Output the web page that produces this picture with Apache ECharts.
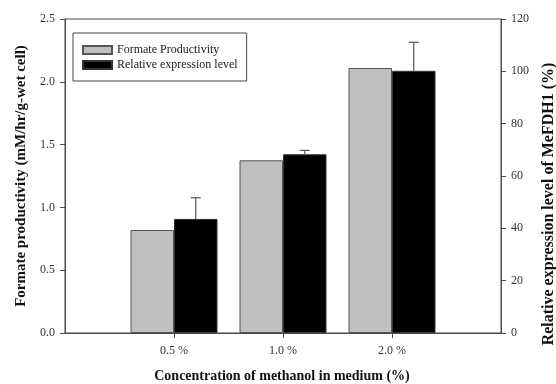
<!DOCTYPE html>
<html>
<head>
<meta charset="utf-8">
<script src="https://cdn.jsdelivr.net/npm/echarts@6/dist/echarts.min.js"></script>
<style>html,body{margin:0;padding:0;background:#fff}#c{width:556px;height:384px}</style>
</head>
<body>
<div id="c"></div>
<script>
var categories = ['', '0.5 %', '1.0 %', '2.0 %', ''];
var productivity = ['-', 0.82, 1.375, 2.11, '-'];
var expression = ['-', 43.6, 68.3, 100.2, '-'];
var expressionErr = [0, 8.1, 1.5, 10.9, 0];
var leftTicks = [0, 2.5, 0.5];
var rightTicks = [0, 120, 20];
var seriesNames = ['Formate Productivity', 'Relative expression level'];
var leftTitle = 'Formate productivity (mM/hr/g-wet cell)';
var rightTitle = 'Relative expression level of MeFDH1 (%)';
var xTitle = 'Concentration of methanol in medium (%)';

var FONT = '"Liberation Serif","Times New Roman",serif';
var axisColor = '#4a4a4a';
var labelColor = '#333';
var BAR_W = 43.5;

var errData = [];
for (var i = 0; i < categories.length; i++) {
  if (expression[i] !== '-') errData.push([i, expression[i], expressionErr[i]]);
}

var chart = echarts.init(document.getElementById('c'), null, {renderer: 'canvas'});
chart.setOption({
  animation: false,
  backgroundColor: '#fff',
  grid: {left: 65, right: 55, top: 19, bottom: 51, show: true, borderColor: axisColor, borderWidth: 1, backgroundColor: 'transparent'},
  legend: {
    orient: 'vertical', left: 73, top: 33,
    padding: [11, 9, 10, 9], itemGap: 3,
    itemWidth: 29, itemHeight: 8,
    borderColor: '#444', borderWidth: 1,
    icon: 'rect',
    data: seriesNames,
    textStyle: {fontFamily: FONT, fontSize: 12, color: '#222'}
  },
  xAxis: {
    type: 'category', data: categories, boundaryGap: false,
    axisLine: {lineStyle: {color: axisColor, width: 1}},
    axisTick: {length: 5, lineStyle: {color: axisColor}, interval: function (idx) { return idx >= 1 && idx <= 3; }},
    axisLabel: {fontFamily: FONT, fontSize: 12, color: labelColor, margin: 12, interval: 0},
    splitLine: {show: false}
  },
  yAxis: [{
    type: 'value', min: leftTicks[0], max: leftTicks[1], interval: leftTicks[2], position: 'left',
    axisLine: {show: true, lineStyle: {color: axisColor}},
    axisTick: {show: true, length: 5, lineStyle: {color: axisColor}},
    axisLabel: {fontFamily: FONT, fontSize: 12, color: labelColor, margin: 10, formatter: function (v) { return v.toFixed(1); }},
    splitLine: {show: false}
  }, {
    type: 'value', min: rightTicks[0], max: rightTicks[1], interval: rightTicks[2], position: 'right',
    axisLine: {show: true, lineStyle: {color: axisColor}},
    axisTick: {show: true, length: 5, lineStyle: {color: axisColor}},
    axisLabel: {fontFamily: FONT, fontSize: 12, color: labelColor, margin: 10},
    splitLine: {show: false}
  }],
  graphic: [
    {type: 'text', x: 21, y: 176, rotation: Math.PI / 2,
     style: {text: leftTitle, font: 'bold 15px ' + FONT, fill: '#111', align: 'center', verticalAlign: 'middle', textAlign: 'center', textVerticalAlign: 'middle'}},
    {type: 'text', x: 549, y: 204, rotation: Math.PI / 2,
     style: {text: rightTitle, font: 'bold 16px ' + FONT, fill: '#111', align: 'center', verticalAlign: 'middle', textAlign: 'center', textVerticalAlign: 'middle'}},
    {type: 'text', x: 282, y: 376,
     style: {text: xTitle, font: 'bold 14px ' + FONT, fill: '#111', align: 'center', verticalAlign: 'middle', textAlign: 'center', textVerticalAlign: 'middle'}}
  ],
  series: [{
    name: seriesNames[0], type: 'bar', yAxisIndex: 0, data: productivity,
    barWidth: BAR_W, barGap: '0%',
    itemStyle: {color: '#c0c0c0', borderColor: '#555', borderWidth: 1}
  }, {
    name: seriesNames[1], type: 'bar', yAxisIndex: 1, data: expression,
    barWidth: BAR_W, barGap: '0%',
    itemStyle: {color: '#000', borderColor: '#333', borderWidth: 1}
  }, {
    type: 'custom', yAxisIndex: 1, data: errData, z: 5,
    renderItem: function (params, api) {
      var top = api.coord([api.value(0), api.value(1)]);
      var hi = api.coord([api.value(0), api.value(1) + api.value(2)]);
      var x = top[0] + BAR_W / 2;
      var style = {stroke: '#555', lineWidth: 1.2};
      return {type: 'group', children: [
        {type: 'line', shape: {x1: x, y1: top[1], x2: x, y2: hi[1]}, style: style},
        {type: 'line', shape: {x1: x - 5, y1: hi[1], x2: x + 5, y2: hi[1]}, style: style}
      ]};
    }
  }]
});
</script>
</body>
</html>
